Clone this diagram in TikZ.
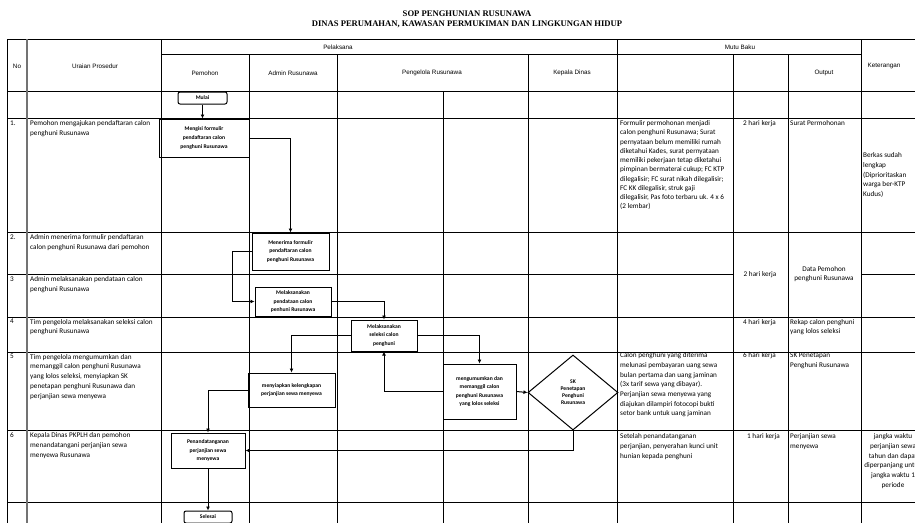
\documentclass[tikz,border=0pt]{standalone}
\usepackage{fontspec}
\setmainfont{Carlito}
\newfontfamily\hfont{Liberation Sans}
\newfontfamily\tfont{Liberation Serif}
\usetikzlibrary{arrows.meta,shapes.geometric}
\begin{document}
\begin{tikzpicture}[x=1pt,y=-1pt,
  grid/.style={line width=0.8pt,black},
  thickgrid/.style={line width=2pt,black!55},
  hdr/.style={font=\hfont\fontsize{6.3}{8}\selectfont,inner sep=0},
  txt/.style={font=\fontsize{7.2}{9.7}\selectfont,align=left,anchor=north west,inner sep=0},
  ctxt/.style={font=\fontsize{7.2}{9.7}\selectfont,align=center,inner sep=0},
  stepbox/.style={draw,line width=1pt,font=\bfseries\fontsize{5.6}{8.6}\selectfont,align=center,inner sep=1pt},
  term/.style={stepbox,rounded corners=2pt},
  dia/.style={draw,diamond,line width=1pt,font=\bfseries\fontsize{5.6}{7}\selectfont,align=center,inner sep=0},
  conn/.style={line width=1pt,-{Latex[length=4pt,width=4pt]}},
]
\fill[white] (0,0) rectangle (915,522);
\useasboundingbox (0,0) rectangle (915,522);
\clip (0,0) rectangle (915,522);

% title
\node[font=\tfont\bfseries\fontsize{8.6}{10}\selectfont,align=center] (title) at (467,19)
  {SOP PENGHUNIAN RUSUNAWA\\DINAS PERUMAHAN, KAWASAN PERMUKIMAN DAN LINGKUNGAN HIDUP};

% grid horizontal
\foreach \yy in {39,91,118,232,317,352,430,502}
  \draw[grid] (7,\yy) -- (930,\yy);
\draw[grid] (161,54) -- (861,54);
\draw[grid] (7,274) -- (733,274);
\draw[grid] (861,274) -- (930,274);
% grid vertical
\draw[grid] (7,39) -- (7,530);
\draw[thickgrid] (27,39) -- (27,530);
\draw[grid] (161,39) -- (161,530);
\draw[grid] (617,39) -- (617,530);
\draw[grid] (861,39) -- (861,530);
\foreach \xx in {249,337,528,733,788}
  \draw[grid] (\xx,54) -- (\xx,530);
\draw[grid] (443,91) -- (443,530);

% headers
\node[hdr] (hno) at (17,66) {No};
\node[hdr] (hur) at (95,66) {Uraian Prosedur};
\node[hdr] (hpel) at (338,47) {Pelaksana};
\node[hdr] (hmutu) at (740,47) {Mutu Baku};
\node[hdr] (hket) at (884,66) {Keterangan};
\node[hdr] (hpem) at (205,73) {Pemohon};
\node[hdr] (hadm) at (293,73) {Admin Rusunawa};
\node[hdr] (hpen) at (432,73) {Pengelola Rusunawa};
\node[hdr] (hkep) at (572,73) {Kepala Dinas};
\node[hdr] (hout) at (824,73) {Output};

% numbers
\node[txt] (n1) at (10,120.5) {1.};
\node[txt] (n2) at (10,234.5) {2.};
\node[txt] (n3) at (10,276.5) {3};
\node[txt] (n4) at (10,319) {4};
\node[txt] (n5) at (10,354) {5};
\node[txt] (n6) at (10,432.5) {6};

% procedure
\node[txt] (p1) at (30,120.5) {Pemohon mengajukan pendaftaran calon\\penghuni Rusunawa};
\node[txt] (p2) at (30,234.5) {Admin menerima formulir pendaftaran\\calon penghuni Rusunawa dari pemohon};
\node[txt] (p3) at (30,276.5) {Admin melaksanakan pendataan calon\\penghuni Rusunawa};
\node[txt] (p4) at (30,319) {Tim pengelola melaksanakan seleksi calon\\penghuni Rusunawa};
\node[txt] (p5) at (30,354) {Tim pengelola mengumumkan dan\\memanggil calon penghuni Rusunawa\\yang lolos seleksi, menyiapkan SK\\penetapan penghuni Rusunawa dan\\perjanjian sewa menyewa};
\node[txt] (p6) at (30,432.5) {Kepala Dinas PKPLH dan pemohon\\menandatangani perjanjian sewa\\menyewa Rusunawa};

% mutu baku col 1
\node[txt,font=\fontsize{7.2}{9.25}\selectfont] (k1) at (620,120.5) {Formulir permohonan menjadi\\calon penghuni Rusunawa; Surat\\pernyataan belum memiliki rumah\\diketahui Kades, surat pernyataan\\memiliki pekerjaan tetap diketahui\\pimpinan bermaterai cukup; FC KTP\\dilegalisir; FC surat nikah dilegalisir;\\FC KK dilegalisir, struk gaji\\dilegalisir, Pas foto terbaru uk. 4 x 6\\(2 lembar)};
\node[txt] (k5) at (620,352.5) {Calon penghuni yang diterima\\melunasi pembayaran uang sewa\\bulan pertama dan uang jaminan\\(3x tarif sewa yang dibayar).\\Perjanjian sewa menyewa yang\\diajukan dilampiri fotocopi bukti\\setor bank untuk uang jaminan};
\node[txt] (k6) at (620,433.5) {Setelah penandatanganan\\perjanjian, penyerahan kunci unit\\hunian kepada penghuni};

% waktu
\node[txt] (w1) at (743,120.5) {2 hari kerja};
\node[ctxt] (w23) at (760,275) {2 hari kerja};
\node[txt] (w4) at (743,319) {4 hari kerja};
\node[txt] (w5) at (743,352.5) {6 hari kerja};
\node[txt] (w6) at (747,433.5) {1 hari kerja};

% output
\node[txt] (o1) at (790,120.5) {Surat Permohonan};
\node[ctxt] (o23) at (824,274) {Data Pemohon\\penghuni Rusunawa};
\node[txt] (o4) at (790,319) {Rekap calon penghuni\\yang lolos seleksi};
\node[txt] (o5) at (790,352.5) {SK Penetapan\\Penghuni Rusunawa};
\node[txt] (o6) at (790,433.5) {Perjanjian sewa\\menyewa};

% keterangan
\node[txt,anchor=west] (ket1) at (863,175) {Berkas sudah\\lengkap\\(Diprioritaskan\\warga ber-KTP\\Kudus)};
\node[ctxt,anchor=north] (ket6) at (893,433.5) {jangka waktu\\perjanjian sewa\\tahun dan dapat\\diperpanjang untuk\\jangka waktu 1\\periode};

% flow nodes
\node[term,minimum width=49pt,minimum height=12pt] (mulai) at (202.5,98) {Mulai};
\node[stepbox,minimum width=90pt,minimum height=38pt] (mengisi) at (204,138) {Mengisi formulir\\pendaftaran calon\\penghuni Rusunawa};
\node[stepbox,minimum width=77pt,minimum height=37pt] (menerima) at (290.5,251.5) {Menerima formulir\\pendaftaran calon\\penghuni Rusunawa};
\node[stepbox,minimum width=76pt,minimum height=29pt] (pendataan) at (293,301.5) {Melaksanakan\\pendataan calon\\penhuni Rusunawa};
\node[stepbox,minimum width=66pt,minimum height=31pt] (seleksi) at (384,335.5) {Melaksanakan\\seleksi calon\\penghuni};
\node[stepbox,minimum width=87pt,minimum height=34pt] (siap) at (291.5,390) {menyiapkan kelengkapan\\perjanjian sewa menyewa};
\node[stepbox,minimum width=73pt,minimum height=55pt] (umum) at (479.5,391.5) {mengumumkan dan\\memanggil calon\\penghuni Rusunawa\\yang lolos seleksi};
\node[dia,minimum width=90pt,minimum height=75pt] (sk) at (573,392.5) {SK\\Penetapan\\Penghuni\\Rusunawa};
\node[stepbox,minimum width=74pt,minimum height=35pt] (tanda) at (208,450.5) {Penandatanganan\\perjanjian sewa\\menyewa};
\node[term,minimum width=48pt,minimum height=12pt] (selesai) at (208,517) {Selesai};

% connectors
\draw[conn] (mulai.south) -- (mulai.south |- mengisi.north);
\draw[conn] (mengisi.east) -| (menerima.north);
\draw[conn] (menerima.west) -- ++(-19,0) |- (pendataan.west);
\draw[conn] (pendataan.east) -| (seleksi.north);
\draw[conn] (seleksi.west) -| (siap.north);
\draw[conn] (seleksi.east) -| (umum.north);
\draw[conn] (umum.west) -| (seleksi.south);
\draw[conn] (umum.east) -- (sk.west);
\draw[conn] (sk.south) |- (tanda.east);
\draw[conn] (siap.west) -| (tanda.north);
\draw[conn] (tanda.south) -- (selesai.north);
\end{tikzpicture}
\end{document}
